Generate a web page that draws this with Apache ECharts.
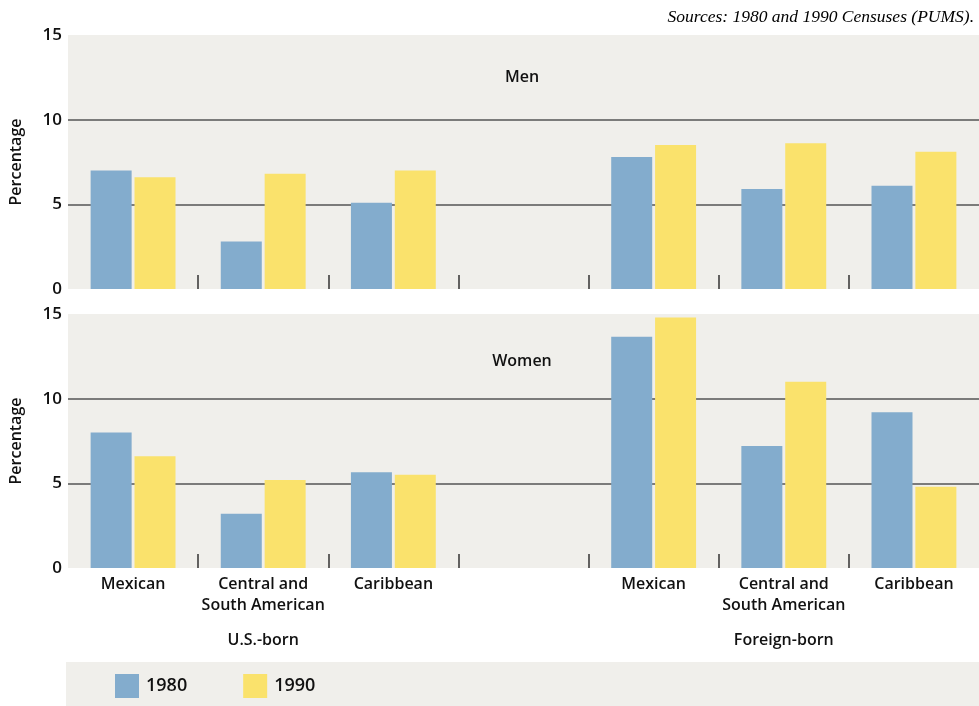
<!DOCTYPE html>
<html>
<head>
<meta charset="utf-8">
<script src="https://cdn.jsdelivr.net/npm/echarts@6/dist/echarts.min.js"></script>
<style>html,body{margin:0;padding:0;background:#fff}#c{width:979px;height:706px}</style>
</head>
<body>
<div id="c"></div>
<script>
const categories = ['Mexican', 'Central and\nSouth American', 'Caribbean', '', 'Mexican', 'Central and\nSouth American', 'Caribbean'];
const groupLabels = ['', 'U.S.-born', '', '', '', 'Foreign-born', ''];
const years = ['1980', '1990'];
const men1980 = [7.0, 2.8, 5.1, null, 7.8, 5.9, 6.1];
const men1990 = [6.6, 6.8, 7.0, null, 8.5, 8.6, 8.1];
const women1980 = [8.0, 3.2, 5.65, null, 13.65, 7.2, 9.2];
const women1990 = [6.6, 5.2, 5.5, null, 14.8, 11.0, 4.8];
const yTicks = [0, 5, 10, 15];
const panelTitles = ['Men', 'Women'];
const sourceText = 'Sources: 1980 and 1990 Censuses (PUMS).';

const FONT = 'Open Sans';
const TXT = '#111';
const BG = '#f0efeb';
const BLUE = '#83accd';
const YELLOW = '#fae26c';
const W = 600;

// boundaries between category slots (n + 1 points)
const boundaries = categories.concat(['end']).map(function (c, i) { return 'b' + i; });

const chart = echarts.init(document.getElementById('c'), null, {renderer: 'canvas'});

function xAx(gi, showLabels) {
  return {
    type: 'category', gridIndex: gi, data: categories,
    boundaryGap: true,
    axisLine: {show: false},
    axisTick: {show: false},
    axisLabel: {show: showLabels, interval: 0, color: TXT, fontFamily: FONT, fontSize: 16, fontWeight: W,
      lineHeight: 21, margin: 6},
    splitLine: {show: false}
  };
}
function tickAx(gi) {
  return {
    type: 'category', gridIndex: gi, data: boundaries, boundaryGap: false, position: 'bottom',
    axisLine: {show: false}, axisLabel: {show: false}, splitLine: {show: false},
    axisTick: {show: true, inside: true, length: 14,
      interval: function (i) { return i > 0 && i < boundaries.length - 1; },
      lineStyle: {color: '#333', width: 1.5}}
  };
}
function yAx(gi) {
  return {
    type: 'value', gridIndex: gi, min: yTicks[0], max: yTicks[yTicks.length - 1], interval: yTicks[1] - yTicks[0],
    name: 'Percentage', nameLocation: 'middle', nameGap: 44,
    nameTextStyle: {color: TXT, fontFamily: FONT, fontSize: 16, fontWeight: W},
    axisLine: {show: false}, axisTick: {show: false},
    axisLabel: {color: TXT, fontFamily: FONT, fontSize: 17, fontWeight: W, margin: 6},
    splitLine: {show: true, showMinLine: false, showMaxLine: false, lineStyle: {color: '#555', width: 1.5}}
  };
}

const groupAxis = {
  type: 'category', gridIndex: 1, data: categories, position: 'bottom', offset: 56,
  axisLine: {show: false}, axisTick: {show: false}, splitLine: {show: false},
  axisLabel: {interval: 0, color: TXT, fontFamily: FONT, fontSize: 16, fontWeight: W,
    formatter: function (v, i) { return groupLabels[i]; }}
};

const barCommon = {type: 'bar', barWidth: 41, barGap: '7%', silent: true};

chart.setOption({
  animation: false,
  backgroundColor: '#fff',
  textStyle: {fontFamily: FONT},
  grid: [
    {left: 66, right: 0, top: 35, height: 254, show: true, backgroundColor: BG, borderWidth: 0},
    {left: 66, right: 0, top: 314, height: 254, show: true, backgroundColor: BG, borderWidth: 0}
  ],
  xAxis: [xAx(0, false), xAx(1, true), groupAxis, tickAx(0), tickAx(1)],
  yAxis: [yAx(0), yAx(1)],
  legend: {
    data: years, left: 115, top: 674, padding: 0, itemWidth: 24, itemHeight: 24, itemGap: 56,
    icon: 'rect', textStyle: {color: TXT, fontFamily: FONT, fontSize: 18, fontWeight: W, padding: [0, 0, 0, 2]}
  },
  graphic: [
    {type: 'rect', left: 66, top: 662, z: -10, shape: {width: 913, height: 44}, style: {fill: BG}},
    {type: 'text', x: 522, y: 77, style: {text: panelTitles[0], align: 'center', verticalAlign: 'middle',
      font: '600 16px "' + FONT + '"', fill: TXT}},
    {type: 'text', x: 522, y: 361, style: {text: panelTitles[1], align: 'center', verticalAlign: 'middle',
      font: '600 16px "' + FONT + '"', fill: TXT}},
    {type: 'text', x: 974, y: 17, style: {text: sourceText, align: 'right', verticalAlign: 'middle',
      font: 'italic 17.5px "Liberation Serif"', fill: '#000'}}
  ],
  series: [
    Object.assign({name: years[0], xAxisIndex: 0, yAxisIndex: 0, data: men1980, itemStyle: {color: BLUE}}, barCommon),
    Object.assign({name: years[1], xAxisIndex: 0, yAxisIndex: 0, data: men1990, itemStyle: {color: YELLOW}}, barCommon),
    Object.assign({name: years[0], xAxisIndex: 1, yAxisIndex: 1, data: women1980, itemStyle: {color: BLUE}}, barCommon),
    Object.assign({name: years[1], xAxisIndex: 1, yAxisIndex: 1, data: women1990, itemStyle: {color: YELLOW}}, barCommon)
  ]
});
</script>
</body>
</html>
